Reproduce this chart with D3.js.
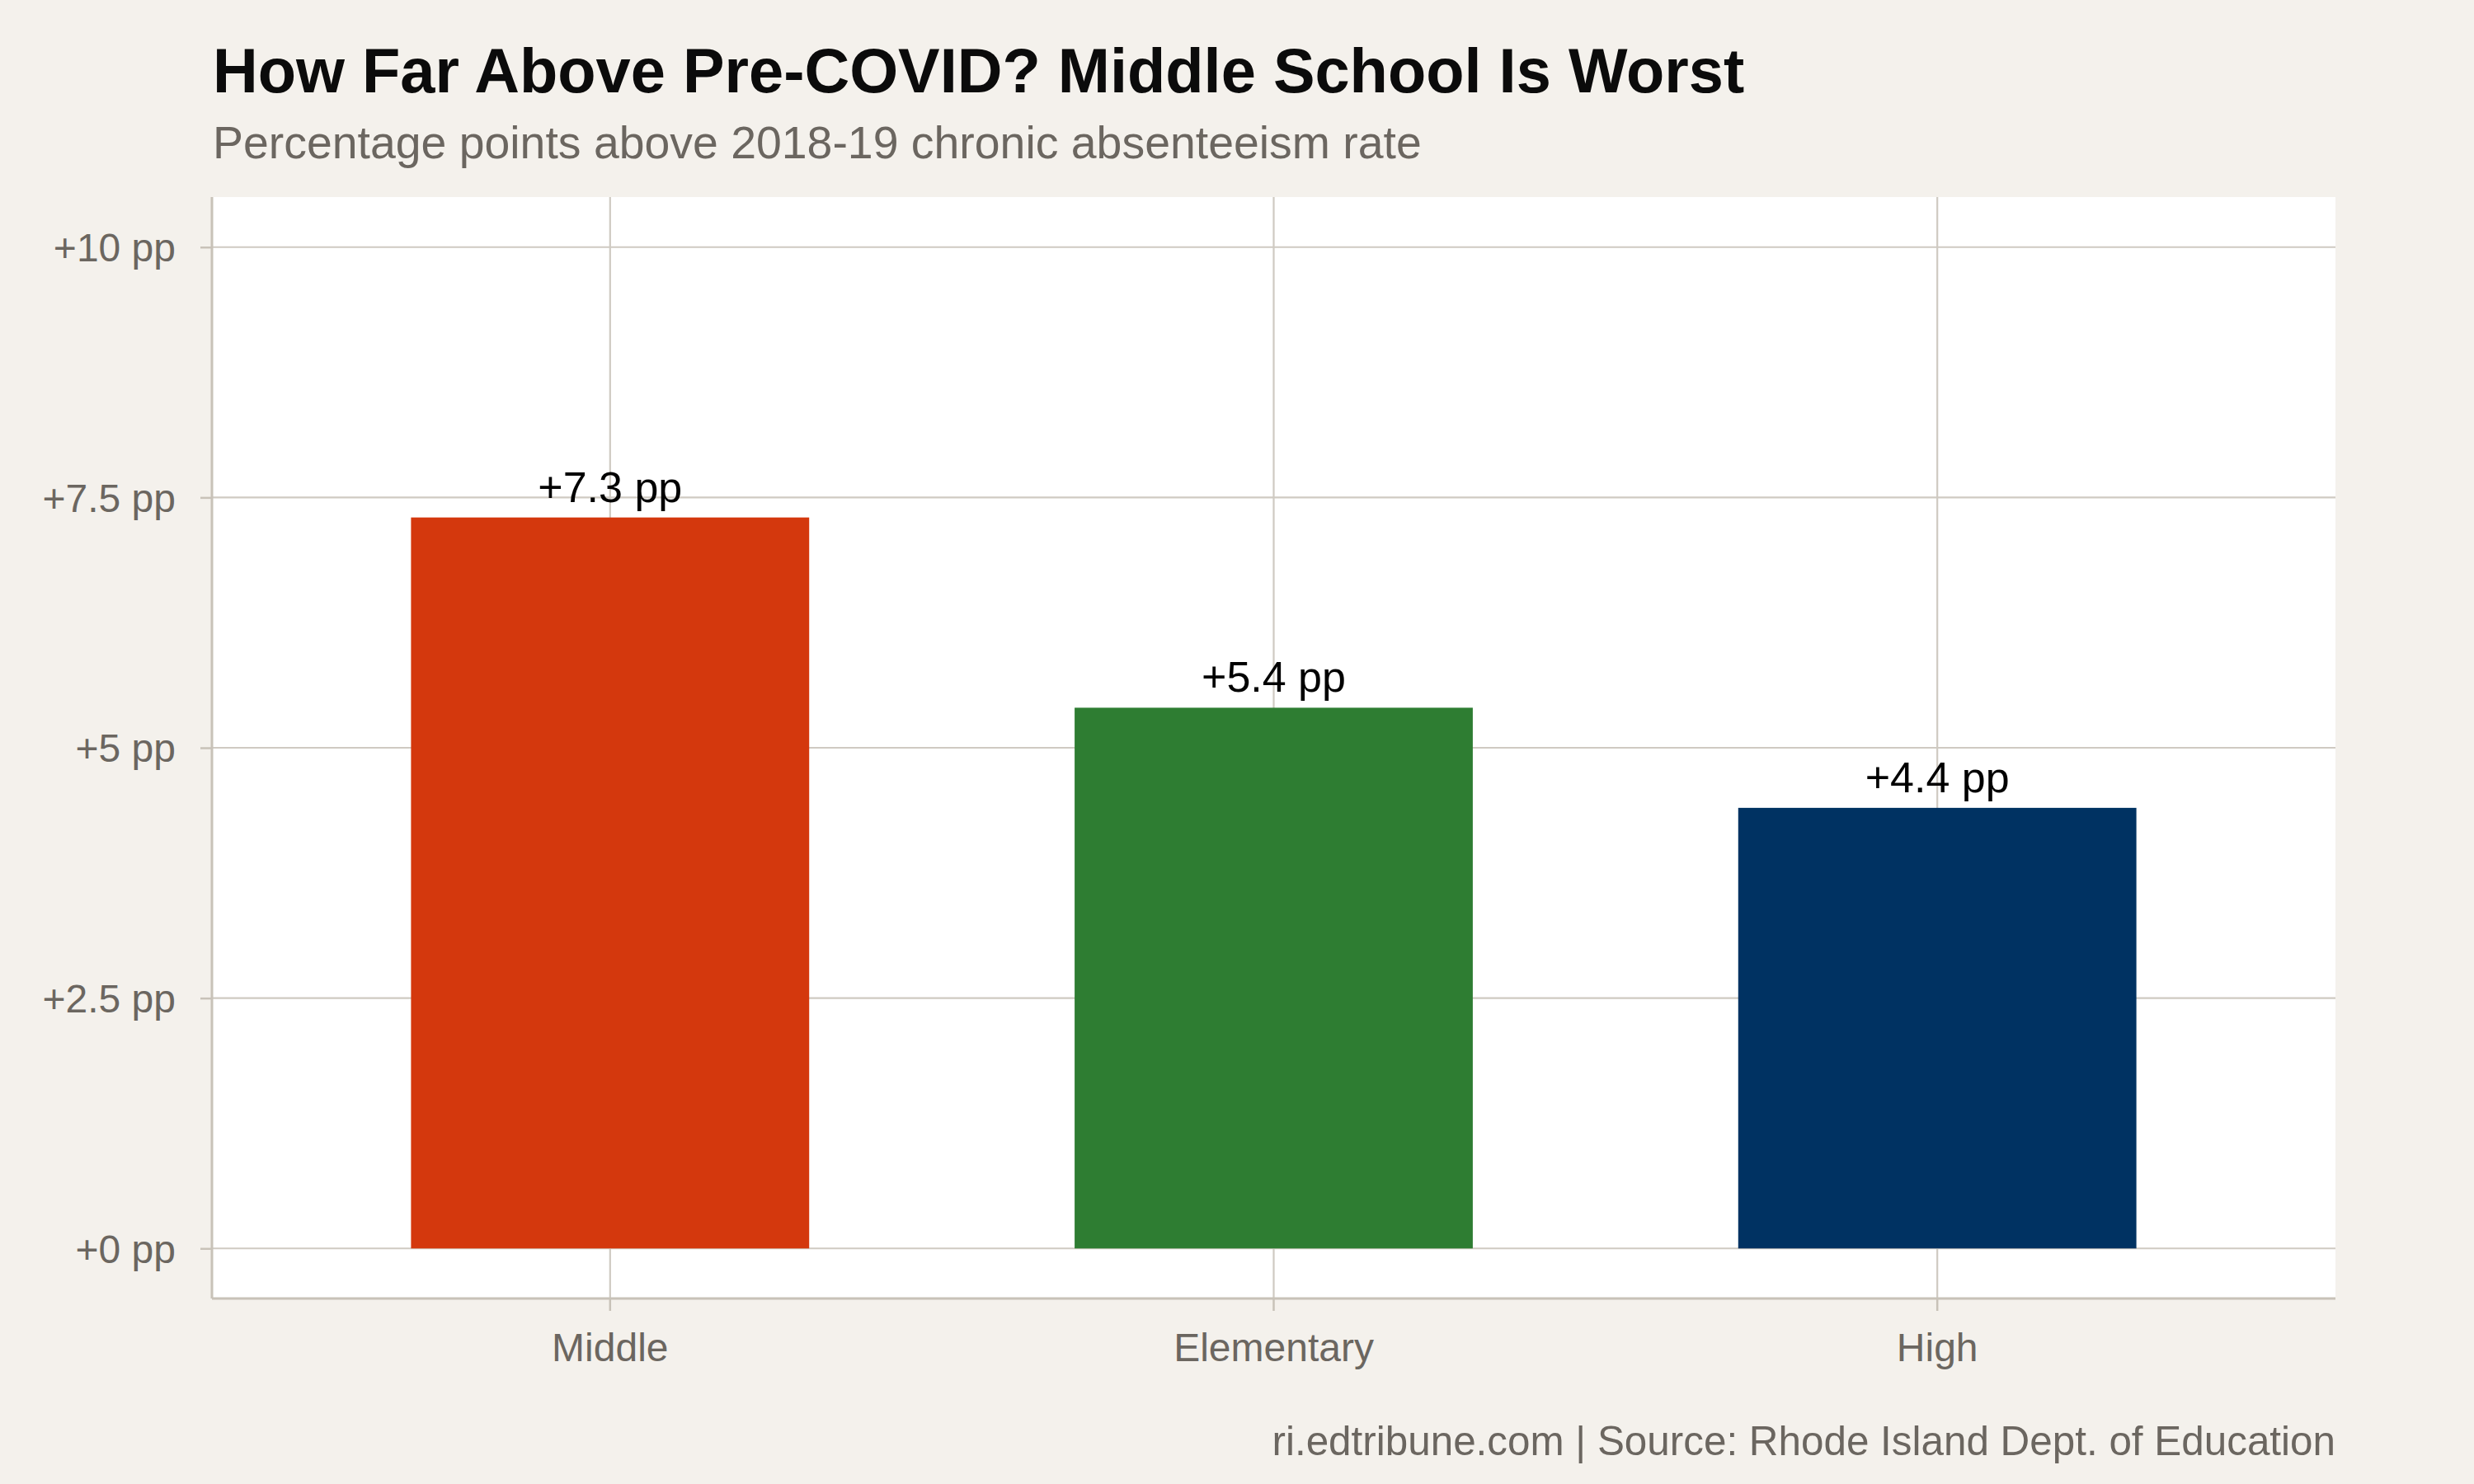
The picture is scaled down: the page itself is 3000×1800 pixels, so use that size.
<!DOCTYPE html>
<html>
<head>
<meta charset="utf-8">
<script src="https://cdn.jsdelivr.net/npm/d3@7"></script>
<style>
  html, body { margin: 0; padding: 0; background: #f4f1ec; }
  svg { display: block; font-family: "Liberation Sans", Arial, Helvetica, sans-serif; }
</style>
</head>
<body>
<svg width="3000" height="1800"></svg>
<script>
// data
const levels = ["Middle", "Elementary", "High"];
const gaps = [7.3, 5.4, 4.4];
const yTicks = [0, 2.5, 5, 7.5, 10];

const title = "How Far Above Pre-COVID? Middle School Is Worst";
const subtitle = "Percentage points above 2018-19 chronic absenteeism rate";
const caption = "ri.edtribune.com | Source: Rhode Island Dept. of Education";

const barColors = ["#d4380d", "#2e7d32", "#003262"];

const width = 3000, height = 1800;
const margin = {top: 239, right: 168, bottom: 225, left: 257};
const plotW = width - margin.left - margin.right,
      plotH = height - margin.top - margin.bottom;

const gridCol = "#cfcac2", axisCol = "#c8c2b8", textGray = "#6b6660";

const svg = d3.select("svg");

svg.append("rect")
   .attr("width", width).attr("height", height)
   .attr("fill", "#f4f1ec");

// title & subtitle
svg.append("text")
   .attr("x", 258).attr("y", 112)
   .attr("font-size", "75.8px").attr("font-weight", "bold")
   .attr("fill", "#0b0b0b")
   .text(title);

svg.append("text")
   .attr("x", 258).attr("y", 192)
   .attr("font-size", "55.4px")
   .attr("fill", textGray)
   .text(subtitle);

const g = svg.append("g")
             .attr("transform", `translate(${margin.left}, ${margin.top})`);

// panel
g.append("rect")
 .attr("width", plotW).attr("height", plotH)
 .attr("fill", "#ffffff");

// scales
const x = d3.scaleBand()
  .domain(levels)
  .range([0, plotW])
  .paddingInner(0.4)
  .paddingOuter(0.3);

const y = d3.scaleLinear()
  .domain([-0.5, 10.5])
  .range([plotH, 0]);

const color = d3.scaleOrdinal().domain(levels).range(barColors);

// grid
g.append("g")
 .selectAll("line")
 .data(yTicks)
 .enter().append("line")
   .attr("x1", 0).attr("x2", plotW)
   .attr("y1", d => y(d)).attr("y2", d => y(d))
   .attr("stroke", gridCol).attr("stroke-width", 2.2);

g.append("g")
 .selectAll("line")
 .data(levels)
 .enter().append("line")
   .attr("x1", d => x(d) + x.bandwidth() / 2)
   .attr("x2", d => x(d) + x.bandwidth() / 2)
   .attr("y1", 0).attr("y2", plotH)
   .attr("stroke", gridCol).attr("stroke-width", 2.2);

// bars
const data = levels.map((d, i) => ({level: d, gap: gaps[i]}));

g.selectAll("rect.bar")
 .data(data)
 .enter().append("rect")
   .attr("class", "bar")
   .attr("x", d => x(d.level))
   .attr("y", d => y(d.gap))
   .attr("width", x.bandwidth())
   .attr("height", d => y(0) - y(d.gap))
   .attr("fill", d => color(d.level));

// value labels
g.selectAll("text.val")
 .data(data)
 .enter().append("text")
   .attr("class", "val")
   .attr("x", d => x(d.level) + x.bandwidth() / 2)
   .attr("y", d => y(d.gap) - 19)
   .attr("text-anchor", "middle")
   .attr("font-size", "52px")
   .attr("fill", "#000000")
   .text(d => `+${d.gap.toFixed(1)} pp`);

// y axis
const yAxis = d3.axisLeft(y)
  .tickValues(yTicks)
  .tickSize(14)
  .tickPadding(30)
  .tickFormat(d => `+${d} pp`);

const yG = g.append("g").call(yAxis);
yG.select(".domain").remove();
yG.selectAll(".tick line").attr("stroke", axisCol).attr("stroke-width", 2.5);
yG.selectAll(".tick text")
  .attr("font-size", "48px")
  .attr("font-family", "Liberation Sans, Arial, sans-serif")
  .attr("fill", textGray)
  .attr("dy", "0.35em");

// x axis
const xAxis = d3.axisBottom(x)
  .tickSize(15)
  .tickPadding(27);

const xG = g.append("g")
  .attr("transform", `translate(0, ${plotH})`)
  .call(xAxis);
xG.select(".domain").remove();
xG.selectAll(".tick line").attr("stroke", axisCol).attr("stroke-width", 2.5);
xG.selectAll(".tick text")
  .attr("font-size", "48px")
  .attr("font-family", "Liberation Sans, Arial, sans-serif")
  .attr("fill", textGray)
  .attr("dy", "0.71em");

// axis lines
g.append("line")
 .attr("x1", 0).attr("x2", 0)
 .attr("y1", 0).attr("y2", plotH)
 .attr("stroke", axisCol).attr("stroke-width", 3);

g.append("line")
 .attr("x1", 0).attr("x2", plotW)
 .attr("y1", plotH).attr("y2", plotH)
 .attr("stroke", axisCol).attr("stroke-width", 3);

// caption
svg.append("text")
   .attr("x", margin.left + plotW).attr("y", 1765)
   .attr("text-anchor", "end")
   .attr("font-size", "49.4px")
   .attr("fill", textGray)
   .text(caption);
</script>
</body>
</html>
